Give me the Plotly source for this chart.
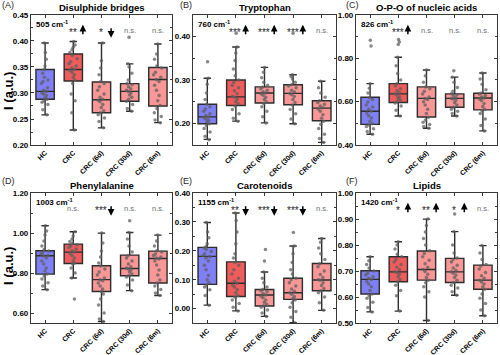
import plotly.graph_objects as go

categories = ["HC", "CRC", "CRC (6d)", "CRC (30d)", "CRC (6m)"]
panel_titles = ["Disulphide bridges", "Tryptophan", "O-P-O of nucleic acids",
                "Phenylalanine", "Carotenoids", "Lipids"]
panel_letters = ["(A)", "(B)", "(C)", "(D)", "(E)", "(F)"]
wavenumbers = ["505", "760", "826", "1003", "1155", "1420"]

# ---- box statistics per panel (HC, CRC, CRC 6d, CRC 30d, CRC 6m) ----
disulphide_q1 = [0.288, 0.323, 0.262, 0.284, 0.275]
disulphide_median = [0.303, 0.345, 0.287, 0.303, 0.326]
disulphide_q3 = [0.345, 0.375, 0.321, 0.318, 0.349]
disulphide_low = [0.258, 0.229, 0.233, 0.265, 0.243]
disulphide_high = [0.396, 0.399, 0.396, 0.356, 0.394]

tryptophan_q1 = [0.199, 0.241, 0.247, 0.243, 0.206]
tryptophan_median = [0.215, 0.261, 0.270, 0.269, 0.235]
tryptophan_q3 = [0.244, 0.300, 0.284, 0.289, 0.252]
tryptophan_low = [0.163, 0.205, 0.201, 0.199, 0.156]
tryptophan_high = [0.304, 0.376, 0.329, 0.312, 0.297]

opo_q1 = [0.495, 0.596, 0.529, 0.574, 0.562]
opo_median = [0.556, 0.636, 0.615, 0.615, 0.617]
opo_q3 = [0.620, 0.683, 0.668, 0.636, 0.639]
opo_low = [0.450, 0.534, 0.477, 0.534, 0.465]
opo_high = [0.683, 0.805, 0.746, 0.713, 0.732]

phe_q1 = [0.795, 0.848, 0.708, 0.787, 0.750]
phe_median = [0.887, 0.905, 0.767, 0.823, 0.873]
phe_q3 = [0.912, 0.945, 0.837, 0.890, 0.910]
phe_low = [0.717, 0.775, 0.558, 0.712, 0.688]
phe_high = [1.037, 1.007, 1.000, 1.003, 0.990]

carot_q1 = [0.084, 0.042, 0.009, 0.032, 0.062]
carot_median = [0.181, 0.088, 0.047, 0.055, 0.099]
carot_q3 = [0.212, 0.162, 0.066, 0.105, 0.156]
carot_low = [0.012, -0.008, -0.027, -0.049, -0.006]
carot_high = [0.298, 0.331, 0.127, 0.217, 0.243]

lipid_q1 = [0.612, 0.659, 0.665, 0.656, 0.630]
lipid_median = [0.668, 0.697, 0.706, 0.697, 0.665]
lipid_q3 = [0.701, 0.755, 0.777, 0.749, 0.723]
lipid_low = [0.543, 0.546, 0.510, 0.607, 0.528]
lipid_high = [0.755, 0.813, 0.900, 0.852, 0.798]

# ---- individual spectra intensities per group ----
disulphide_points = [
    [0.258, 0.268, 0.278, 0.282, 0.285, 0.288, 0.291, 0.295, 0.298, 0.300, 0.303, 0.305,
     0.310, 0.318, 0.322, 0.325, 0.330, 0.338, 0.345, 0.352, 0.365, 0.378, 0.396],
    [0.229, 0.262, 0.285, 0.298, 0.318, 0.325, 0.330, 0.335, 0.340, 0.343, 0.345, 0.348,
     0.352, 0.356, 0.360, 0.366, 0.372, 0.378, 0.383, 0.388, 0.392, 0.399],
    [0.233, 0.245, 0.252, 0.258, 0.262, 0.266, 0.272, 0.278, 0.283, 0.286, 0.288, 0.292,
     0.298, 0.305, 0.312, 0.318, 0.322, 0.335, 0.348, 0.362, 0.396],
    [0.265, 0.270, 0.278, 0.284, 0.288, 0.292, 0.296, 0.300, 0.303, 0.305, 0.308, 0.312,
     0.316, 0.318, 0.325, 0.338, 0.350, 0.356, 0.407],
    [0.243, 0.248, 0.255, 0.262, 0.270, 0.276, 0.285, 0.295, 0.305, 0.315, 0.322, 0.326,
     0.330, 0.335, 0.340, 0.348, 0.352, 0.365, 0.375, 0.394],
]
tryptophan_points = [
    [0.162, 0.170, 0.180, 0.188, 0.195, 0.199, 0.203, 0.207, 0.210, 0.213, 0.215, 0.218,
     0.222, 0.228, 0.233, 0.238, 0.244, 0.255, 0.270, 0.290, 0.304, 0.342],
    [0.205, 0.212, 0.222, 0.232, 0.240, 0.245, 0.250, 0.255, 0.260, 0.262, 0.268, 0.275,
     0.282, 0.288, 0.295, 0.300, 0.310, 0.325, 0.345, 0.362, 0.376, 0.408],
    [0.201, 0.215, 0.228, 0.238, 0.246, 0.250, 0.255, 0.260, 0.265, 0.268, 0.270, 0.273,
     0.276, 0.280, 0.283, 0.288, 0.295, 0.305, 0.318, 0.329],
    [0.199, 0.210, 0.222, 0.232, 0.242, 0.248, 0.255, 0.262, 0.266, 0.269, 0.272, 0.276,
     0.282, 0.286, 0.289, 0.295, 0.302, 0.308, 0.312, 0.408],
    [0.156, 0.165, 0.175, 0.188, 0.198, 0.205, 0.212, 0.220, 0.228, 0.233, 0.236, 0.240,
     0.244, 0.248, 0.252, 0.260, 0.270, 0.282, 0.297],
]
opo_points = [
    [0.450, 0.462, 0.475, 0.485, 0.492, 0.498, 0.510, 0.525, 0.535, 0.548, 0.556, 0.565,
     0.575, 0.585, 0.598, 0.610, 0.618, 0.640, 0.662, 0.683, 0.857, 0.883],
    [0.534, 0.560, 0.580, 0.594, 0.600, 0.608, 0.615, 0.622, 0.630, 0.636, 0.642, 0.650,
     0.660, 0.672, 0.682, 0.700, 0.730, 0.765, 0.805, 0.863, 0.875, 0.887],
    [0.477, 0.485, 0.495, 0.505, 0.515, 0.528, 0.545, 0.565, 0.585, 0.600, 0.610, 0.615,
     0.622, 0.635, 0.648, 0.660, 0.668, 0.690, 0.720, 0.746],
    [0.534, 0.545, 0.556, 0.565, 0.574, 0.585, 0.595, 0.605, 0.612, 0.615, 0.620, 0.628,
     0.633, 0.636, 0.648, 0.665, 0.690, 0.713, 0.743],
    [0.465, 0.490, 0.520, 0.545, 0.558, 0.565, 0.578, 0.592, 0.605, 0.612, 0.617, 0.622,
     0.628, 0.635, 0.639, 0.655, 0.680, 0.705, 0.732],
]
phe_points = [
    [0.717, 0.735, 0.752, 0.770, 0.785, 0.795, 0.810, 0.825, 0.845, 0.860, 0.875, 0.885,
     0.888, 0.895, 0.902, 0.910, 0.918, 0.935, 0.960, 0.990, 1.010, 1.037],
    [0.670, 0.775, 0.800, 0.825, 0.845, 0.850, 0.862, 0.875, 0.888, 0.898, 0.905, 0.912,
     0.920, 0.928, 0.935, 0.942, 0.948, 0.958, 0.970, 0.985, 1.007],
    [0.558, 0.570, 0.600, 0.640, 0.670, 0.695, 0.708, 0.720, 0.735, 0.750, 0.762, 0.767,
     0.775, 0.790, 0.805, 0.820, 0.835, 0.850, 0.880, 0.910, 0.950, 1.000],
    [0.712, 0.740, 0.765, 0.780, 0.787, 0.795, 0.805, 0.815, 0.820, 0.825, 0.832, 0.845,
     0.860, 0.875, 0.888, 0.905, 0.935, 0.970, 1.003, 1.062],
    [0.688, 0.700, 0.718, 0.735, 0.750, 0.765, 0.790, 0.815, 0.840, 0.860, 0.870, 0.875,
     0.880, 0.888, 0.895, 0.905, 0.912, 0.935, 0.960, 0.990],
]
carot_points = [
    [0.012, 0.045, 0.065, 0.075, 0.082, 0.090, 0.100, 0.115, 0.135, 0.150, 0.165, 0.175,
     0.180, 0.183, 0.190, 0.198, 0.205, 0.210, 0.215, 0.225, 0.245, 0.265, 0.298],
    [-0.008, 0.005, 0.018, 0.030, 0.040, 0.045, 0.055, 0.065, 0.075, 0.082, 0.088, 0.095,
     0.105, 0.120, 0.135, 0.150, 0.160, 0.175, 0.190, 0.225, 0.265, 0.305, 0.331],
    [-0.027, -0.015, -0.005, 0.005, 0.010, 0.015, 0.022, 0.030, 0.038, 0.043, 0.047, 0.052,
     0.058, 0.062, 0.066, 0.075, 0.090, 0.105, 0.127, 0.165, 0.205],
    [-0.049, -0.030, -0.010, 0.005, 0.020, 0.030, 0.035, 0.042, 0.050, 0.055, 0.060, 0.068,
     0.078, 0.090, 0.100, 0.105, 0.120, 0.135, 0.160, 0.190, 0.217, 0.264],
    [-0.006, 0.020, 0.040, 0.055, 0.062, 0.070, 0.080, 0.090, 0.098, 0.100, 0.108, 0.118,
     0.130, 0.145, 0.155, 0.170, 0.190, 0.210, 0.230, 0.243],
]
lipid_points = [
    [0.543, 0.560, 0.580, 0.595, 0.605, 0.612, 0.625, 0.640, 0.650, 0.660, 0.668, 0.672,
     0.678, 0.685, 0.692, 0.700, 0.712, 0.725, 0.740, 0.755],
    [0.546, 0.605, 0.625, 0.645, 0.659, 0.668, 0.678, 0.688, 0.695, 0.697, 0.705, 0.715,
     0.725, 0.735, 0.745, 0.755, 0.765, 0.785, 0.800, 0.813],
    [0.510, 0.600, 0.620, 0.640, 0.655, 0.665, 0.675, 0.688, 0.698, 0.706, 0.715, 0.728,
     0.742, 0.755, 0.768, 0.778, 0.800, 0.825, 0.850, 0.875, 0.900],
    [0.607, 0.620, 0.635, 0.645, 0.656, 0.665, 0.675, 0.685, 0.692, 0.697, 0.703, 0.712,
     0.722, 0.735, 0.745, 0.750, 0.770, 0.800, 0.852, 0.920],
    [0.528, 0.550, 0.575, 0.595, 0.612, 0.630, 0.640, 0.650, 0.658, 0.665, 0.672, 0.682,
     0.695, 0.708, 0.720, 0.725, 0.745, 0.770, 0.798],
]

# significance labels vs HC and direction of change
disulphide_sig = ["", "**", "*", "n.s.", "n.s."]
disulphide_dir = ["", "up", "down", "", ""]
tryptophan_sig = ["", "***", "***", "***", "n.s."]
tryptophan_dir = ["", "up", "up", "up", ""]
opo_sig = ["", "***", "n.s.", "n.s.", "n.s."]
opo_dir = ["", "up", "", "", ""]
phe_sig = ["", "n.s.", "***", "n.s.", "n.s."]
phe_dir = ["", "", "down", "", ""]
carot_sig = ["", "**", "***", "***", "n.s."]
carot_dir = ["", "down", "down", "down", ""]
lipid_sig = ["", "*", "**", "*", "n.s."]
lipid_dir = ["", "up", "up", "up", ""]

panels = [
    (disulphide_q1, disulphide_median, disulphide_q3, disulphide_low, disulphide_high,
     disulphide_points, disulphide_sig, disulphide_dir),
    (tryptophan_q1, tryptophan_median, tryptophan_q3, tryptophan_low, tryptophan_high,
     tryptophan_points, tryptophan_sig, tryptophan_dir),
    (opo_q1, opo_median, opo_q3, opo_low, opo_high, opo_points, opo_sig, opo_dir),
    (phe_q1, phe_median, phe_q3, phe_low, phe_high, phe_points, phe_sig, phe_dir),
    (carot_q1, carot_median, carot_q3, carot_low, carot_high, carot_points, carot_sig, carot_dir),
    (lipid_q1, lipid_median, lipid_q3, lipid_low, lipid_high, lipid_points, lipid_sig, lipid_dir),
]

# ---- styling / layout ----
FONT = "Liberation Sans, Arial, sans-serif"
fills = ["rgb(128,128,246)", "rgb(240,92,92)", "rgb(249,150,150)",
         "rgb(249,150,150)", "rgb(249,150,150)"]
x_domains = [[0.062, 0.344], [0.386, 0.672], [0.712, 0.994]] * 2
y_domains = [[0.5915, 0.958]] * 3 + [[0.090, 0.456]] * 3
y_ranges = [[0.20, 0.45], [0.15, 0.45], [0.40, 1.00],
            [0.55, 1.20], [-0.05, 0.40], [0.50, 1.00]]
y_dticks = [0.05, 0.1, 0.2, 0.2, 0.1, 0.1]

fig = go.Figure()
annotations = []
layout = dict(width=500, height=355, margin=dict(l=0, r=0, t=0, b=0),
              paper_bgcolor="white", plot_bgcolor="white", showlegend=False,
              font=dict(family=FONT, color="black"), boxmode="overlay")

for i, (q1, med, q3, lo, hi, pts, sig, dirs) in enumerate(panels):
    n = i + 1
    xa = "x" if n == 1 else f"x{n}"
    ya = "y" if n == 1 else f"y{n}"
    for j, cat in enumerate(categories):
        fig.add_trace(go.Box(
            x=[cat], q1=[q1[j]], median=[med[j]], q3=[q3[j]],
            lowerfence=[lo[j]], upperfence=[hi[j]],
            fillcolor=fills[j], line=dict(color="rgb(45,45,45)", width=1.4),
            width=0.65, whiskerwidth=0.4, boxpoints=False,
            xaxis=xa, yaxis=ya, hoverinfo="skip"))
    for j, cat in enumerate(categories):
        fig.add_trace(go.Box(
            x=[cat] * len(pts[j]), y=pts[j], boxpoints="all", jitter=0.5, pointpos=0,
            fillcolor="rgba(0,0,0,0)", line=dict(color="rgba(0,0,0,0)", width=0),
            marker=dict(color="rgb(95,95,95)", size=3.5, opacity=0.75),
            width=0.65, whiskerwidth=0, xaxis=xa, yaxis=ya, hoverinfo="skip"))

    axis_common = dict(showline=True, linecolor="rgb(55,55,55)", linewidth=1.2,
                       mirror="ticks", ticks="inside", ticklen=3,
                       tickcolor="rgb(55,55,55)", showgrid=False, zeroline=False)
    layout[f"xaxis{'' if n == 1 else n}"] = dict(
        axis_common, domain=x_domains[i], anchor=ya, type="category",
        categoryorder="array", categoryarray=categories, range=[-0.5, 4.5],
        tickangle=-45, automargin=False,
        tickfont=dict(family=FONT, size=7, weight="bold"))
    layout[f"yaxis{'' if n == 1 else n}"] = dict(
        axis_common, domain=y_domains[i], anchor=xa, range=y_ranges[i],
        tick0=0, dtick=y_dticks[i], tickformat=".2f", automargin=False,
        tickfont=dict(family=FONT, size=8, weight="bold"),
        minor=dict(ticks="inside", ticklen=2, dtick=y_dticks[i] / 2, tick0=0,
                   tickcolor="rgb(55,55,55)"))

    xd = f"{xa} domain"
    yd = f"{ya} domain"
    # title
    cx = (x_domains[i][0] + x_domains[i][1]) / 2
    ty = 0.980 if i < 3 else 0.477
    annotations.append(dict(text=f"<b>{panel_titles[i]}</b>", xref="paper", yref="paper",
                            x=cx, y=ty, showarrow=False, xanchor="center", yanchor="middle",
                            font=dict(size=9.5, family=FONT)))
    # panel letter
    lx = [0.0, 0.355, 0.688][i % 3]
    ly = 0.985 if i < 3 else 0.49
    annotations.append(dict(text=panel_letters[i], xref="paper", yref="paper",
                            x=lx, y=ly, showarrow=False, xanchor="left", yanchor="middle",
                            font=dict(size=9, family=FONT, color="rgb(40,40,40)")))
    # wavenumber label
    annotations.append(dict(text=f"<b>{wavenumbers[i]} cm<sup>-1</sup></b>", xref=xd, yref=yd,
                            x=0.02, y=0.93, showarrow=False, xanchor="left", yanchor="middle",
                            font=dict(size=8, family=FONT)))
    # significance
    for j in range(5):
        if sig[j] == "n.s.":
            annotations.append(dict(text="n.s.", xref=xa, yref=yd, x=j, y=0.878,
                                    showarrow=False, xanchor="center", yanchor="middle",
                                    font=dict(size=7.5, family=FONT, color="rgb(110,110,110)")))
        elif sig[j]:
            annotations.append(dict(text=sig[j], xref=xa, yref=yd, x=j - 0.02, y=0.868,
                                    showarrow=False, xanchor="center", yanchor="middle",
                                    font=dict(size=10, family=FONT, color="rgb(30,30,30)")))
        if dirs[j] == "up":
            annotations.append(dict(text="", xref=xa, yref=yd, x=j + 0.34, y=0.925,
                                    ax=0, ay=11, showarrow=True, arrowhead=2, arrowsize=0.9,
                                    arrowwidth=1.5, arrowcolor="black"))
        elif dirs[j] == "down":
            annotations.append(dict(text="", xref=xa, yref=yd, x=j + 0.34, y=0.825,
                                    ax=0, ay=-11, showarrow=True, arrowhead=2, arrowsize=0.9,
                                    arrowwidth=1.5, arrowcolor="black"))

# y-axis titles
for yy in [0.744, 0.251]:
    annotations.append(dict(text="<b>I (a.u.)</b>", xref="paper", yref="paper",
                            x=0.018, y=yy, showarrow=False, textangle=-90,
                            xanchor="center", yanchor="middle",
                            font=dict(size=13, family=FONT)))

layout["annotations"] = annotations
fig.update_layout(**layout)
fig.write_html("out.html",
               config={"displayModeBar": False},
               post_script="document.body.style.margin='0';"
                           "document.body.style.overflow='hidden';")
